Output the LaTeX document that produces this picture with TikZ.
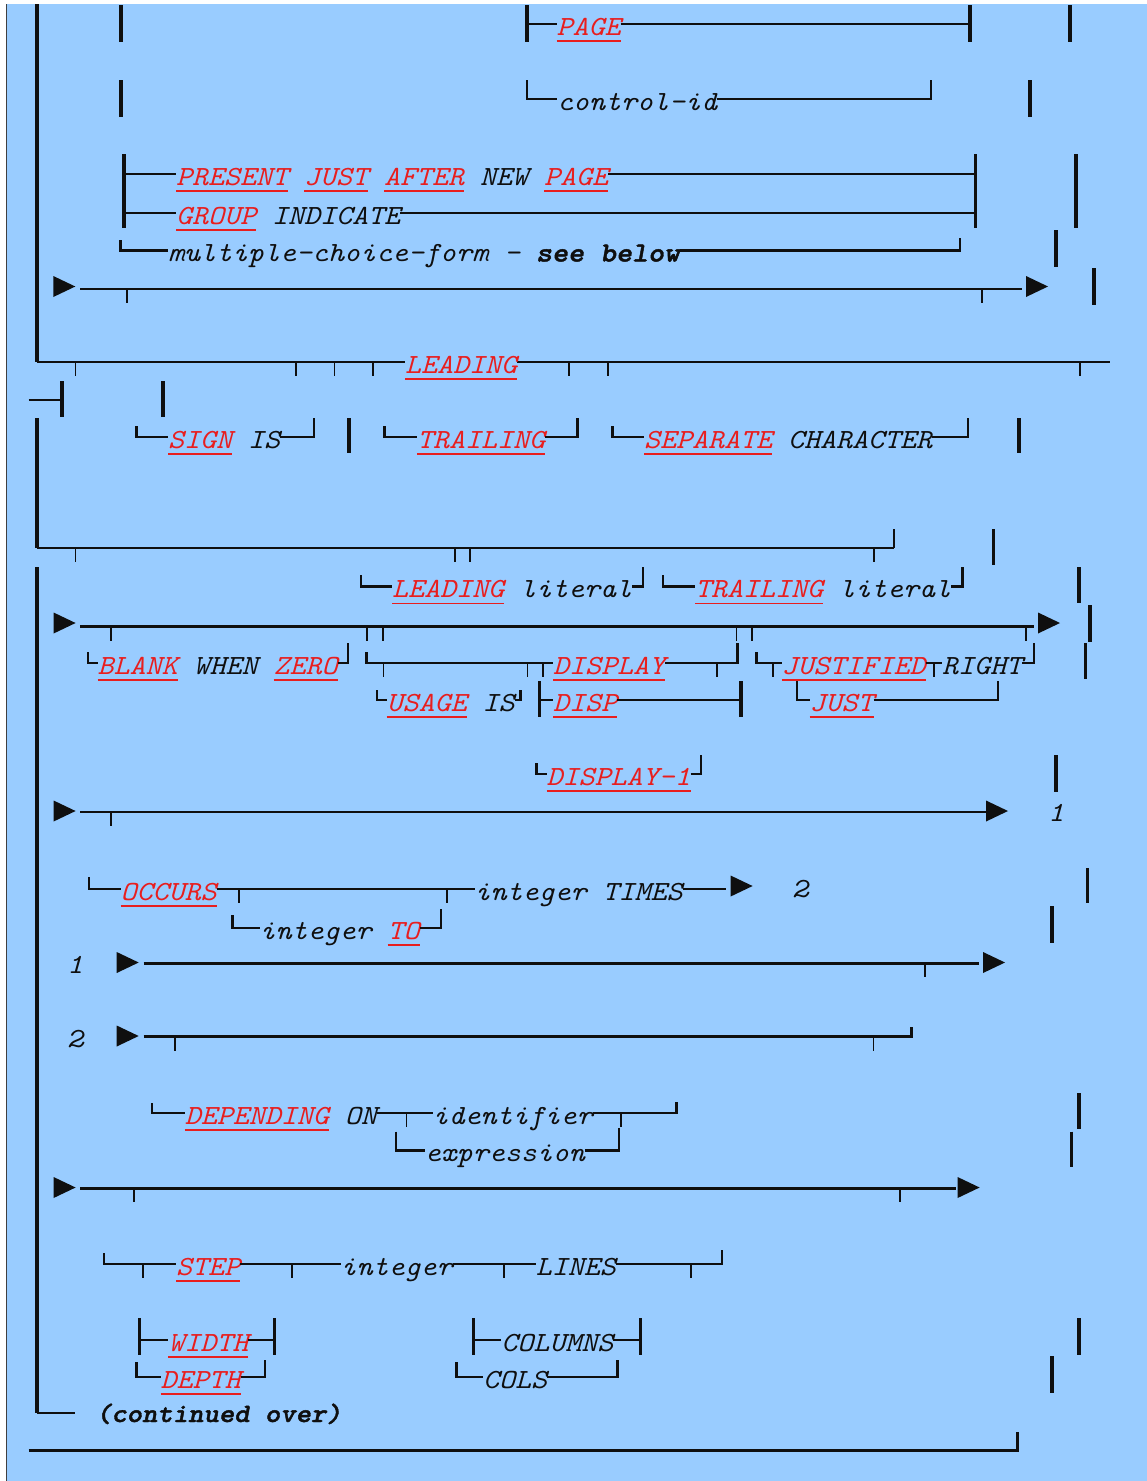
\documentclass[tikz,border=0pt]{standalone}
\usepackage{fontspec}
\newfontfamily\cmono{lmmono10-regular.otf}[ItalicFont=lmmono10-italic.otf,BoldFont=lmmonolt10-bold.otf,BoldItalicFont=lmmonolt10-boldoblique.otf,BoldItalicFeatures={FakeBold=1.6},FakeStretch=1.1]
\definecolor{bg}{HTML}{99CCFF}
\definecolor{kred}{RGB}{232,30,30}
\definecolor{ink}{RGB}{15,15,15}
\newcommand\kwn[4]{\node[txt,text=kred] (#1) at (#2,#3+11) {#4};
  \draw[ul] ([yshift=-6pt]#1.base west) -- ([yshift=-6pt]#1.base east);}
\newcommand\txn[4]{\node[txt] (#1) at (#2,#3+11) {#4};}
\newcommand\vb[3]{\draw[vbar] (#1,#2) -- (#1,#3);}
\newcommand\hl[3]{\draw[hln] (#1,#3) -- (#2,#3);}
\newcommand\tk[2]{\draw[tks] (#1,#2) -- (#1,#2+14);}
\newcommand\crnL[4]{\draw[cor] (#1,#2) -- (#1,#3) -- (#4,#3);}
\newcommand\crnR[4]{\draw[cor] (#1,#3) -- (#4,#3) -- (#4,#2);}
\newcommand\arw[2]{\fill[ink] (#1,#2-10.5) -- (#1+22,#2) -- (#1,#2+10.5) -- cycle;}
\begin{document}
\begin{tikzpicture}[x=1pt,y=-1pt,
  hln/.style={line width=2.6pt, ink},
  vbar/.style={line width=3.2pt, ink},
  cor/.style={line width=2.6pt, ink, line join=miter},
  tks/.style={line width=1.8pt, ink},
  ul/.style={line width=1.4pt, kred},
  txt/.style={anchor=base west, inner sep=0pt, outer sep=0pt, text=ink,
    font=\cmono\itshape\fontsize{27.71}{30}\selectfont}]
\useasboundingbox (0,0) rectangle (1147,1481);
\fill[white] (0,0) rectangle (1147,1481);
\fill[bg] (7,4) rectangle (1147,1481);
\draw[line width=1pt, black!75] (6.5,4) -- (6.5,1481);
% ---------- main left rail ----------
\vb{37}{4}{362}
\hl{37}{405}{362}
\hl{517}{1110}{362}
\vb{37}{418}{548}
\hl{37}{894}{548}
\draw[cor] (894,548) -- (894,529);
\vb{37}{567}{1413}
\hl{37}{74.6}{1413}
% ---------- Row A ----------
\vb{121}{5}{41.7}
\vb{527}{5}{41.7}
\hl{527}{556.7}{24}
\kwn{a1}{556.7}{24}{PAGE}
\hl{620.7}{970}{24}
\vb{970}{5}{41.7}
\vb{1070}{5}{41.7}
% ---------- Row B ----------
\vb{121}{80}{116.7}
\crnL{527}{80}{99}{557}
\txn{b1}{557}{99}{control-id}
\crnR{717}{80}{99}{931}
\vb{1030}{80}{116.7}
% ---------- Rows C, D ----------
\vb{124}{154}{228}
\hl{124}{176}{174}
\kwn{c1}{176}{174}{PRESENT}
\kwn{c2}{304}{174}{JUST}
\kwn{c3}{384}{174}{AFTER}
\txn{c4}{480}{174}{NEW}
\kwn{c5}{544}{174}{PAGE}
\hl{608}{975.7}{174}
\vb{975.7}{154}{228}
\vb{1076}{154}{228}
\hl{124}{176}{213}
\kwn{d1}{176}{213}{GROUP}
\txn{d2}{272}{213}{INDICATE}
\hl{400}{975.7}{213}
% ---------- Row E ----------
\crnL{120.7}{240}{250.5}{168}
\txn{e1}{168}{250.5}{multiple-choice-form - \bfseries see below}
\crnR{680}{238}{250.5}{960}
\vb{1056}{230}{266.7}
% ---------- Row F ----------
\arw{53.3}{286.5}
\hl{80}{1021.7}{289}
\tk{126.7}{289}
\tk{981.7}{289}
\arw{1026}{286.5}
\vb{1094}{268}{305}
% ---------- Row G ----------
\tk{75.4}{362}
\tk{295.8}{362}
\tk{334.5}{362}
\tk{372.8}{362}
\kwn{g1}{405}{362}{LEADING}
\tk{569}{362}
\tk{608}{362}
\tk{1080}{362}
% ---------- Row H ----------
\hl{28.7}{62}{400}
\vb{62}{381}{417}
\vb{163}{381}{417}
% ---------- Row I ----------
\crnL{136.6}{426}{437}{168}
\kwn{i1}{168}{437}{SIGN}
\txn{i2}{248}{437}{IS}
\crnR{280}{418}{437}{314}
\vb{349}{418}{453}
\crnL{384.6}{426}{437}{417}
\kwn{i3}{417}{437}{TRAILING}
\crnR{545}{418}{437}{577.5}
\crnL{612.4}{426}{437}{644}
\kwn{i4}{644}{437}{SEPARATE}
\txn{i5}{788}{437}{CHARACTER}
\crnR{932}{418}{437}{968}
\vb{1019}{418}{453}
% ---------- Row J ----------
\tk{75.4}{548}
\tk{454.6}{548}
\tk{470}{548}
\tk{874}{548}
\vb{993.5}{529}{565}
% ---------- Row K ----------
\crnL{361}{575}{586.5}{392}
\kwn{k1}{392}{586.5}{LEADING}
\txn{k2}{520}{586.5}{literal}
\crnR{632}{567}{586.5}{643}
\crnL{663}{575}{586.5}{695}
\kwn{k3}{695}{586.5}{TRAILING}
\txn{k4}{839}{586.5}{literal}
\crnR{951}{567}{586.5}{962.5}
\vb{1079}{567}{603}
% ---------- Row L ----------
\arw{53.6}{623}
\hl{80}{1034}{626.5}
\tk{111}{626.5}
\tk{366.6}{626.5}
\tk{382.7}{626.5}
\tk{736.4}{626.5}
\tk{752}{626.5}
\tk{1025.7}{626.5}
\arw{1038}{623}
\vb{1090}{605}{641.7}
% ---------- Row M ----------
\crnL{88}{652}{663}{97.6}
\kwn{m1}{97.6}{663}{BLANK}
\txn{m2}{193.6}{663}{WHEN}
\kwn{m3}{273.6}{663}{ZERO}
\crnR{337.6}{643}{663}{348}
\crnL{366.6}{652}{663}{553}
\tk{383.5}{663}
\tk{527.4}{663}
\tk{542.7}{663}
\kwn{m4}{553}{663}{DISPLAY}
\crnR{665}{643}{663}{737.5}
\tk{717}{663}
\crnL{756.7}{652}{663}{781.5}
\tk{772.7}{663}
\kwn{m5}{781.5}{663}{JUSTIFIED}
\hl{925.5}{942}{663}
\tk{933.8}{663}
\txn{m6}{942}{663}{RIGHT}
\crnR{1022}{643}{663}{1034}
\vb{1085.8}{643}{679}
% ---------- Row N ----------
\crnL{377}{690}{700}{386.5}
\kwn{n1}{386.5}{700}{USAGE}
\txn{n2}{482.5}{700}{IS}
\crnR{514.5}{690}{700}{520.5}
\vb{539.6}{681}{717}
\hl{539.6}{553}{700}
\kwn{n3}{553}{700}{DISP}
\hl{617}{741}{700}
\vb{741}{681}{717}
\crnL{796.8}{681}{700}{809.5}
\kwn{n4}{809.5}{700}{JUST}
\crnR{873.5}{681}{700}{997.8}
% ---------- Row O ----------
\crnL{536.6}{763}{774}{546.5}
\kwn{o1}{546.5}{774}{DISPLAY-1}
\crnR{690.5}{755}{774}{701}
\vb{1056}{755}{791.7}
% ---------- Row P ----------
\arw{53.6}{811}
\hl{80}{986}{812}
\tk{111}{812}
\arw{986}{811}
\txn{p1}{1048}{810}{1}
% ---------- Row Q ----------
\crnL{88.8}{877}{889}{120.5}
\kwn{q1}{120.5}{889}{OCCURS}
\hl{216.5}{474.6}{889}
\tk{239}{889}
\tk{447}{889}
\txn{q2}{474.6}{889}{integer TIMES}
\hl{682.6}{726}{889}
\arw{730.6}{886}
\txn{q3}{792}{886}{2}
\vb{1087.7}{868}{903}
% ---------- Row R ----------
\crnL{232.3}{915}{928}{259.5}
\txn{r1}{259.5}{928}{integer}
\kwn{r2}{387.5}{928}{TO}
\crnR{419.5}{909}{928}{441}
\vb{1052}{906}{942.7}
% ---------- Row S ----------
\txn{s1}{67}{962}{1}
\arw{116.7}{962.5}
\hl{143.5}{978.6}{963.3}
\tk{925}{963.3}
\arw{983}{962.5}
% ---------- Row T ----------
\txn{t1}{67}{1036}{2}
\arw{116.7}{1036}
\crnR{143.5}{1026.7}{1036.7}{911.7}
\tk{175.3}{1036.7}
\tk{873.4}{1036.7}
% ---------- Row U ----------
\crnL{152}{1103}{1113}{184.8}
\kwn{u1}{184.8}{1113}{DEPENDING}
\txn{u2}{344.8}{1113}{ON}
\hl{376.8}{432.5}{1113}
\tk{406.4}{1113}
\txn{u3}{432.5}{1113}{identifier}
\crnR{592.5}{1102}{1113}{676.3}
\tk{620.8}{1113}
\vb{1079}{1093}{1129}
% ---------- Row V ----------
\crnL{396}{1131.7}{1150.7}{424.8}
\txn{v1}{424.8}{1150.7}{expression}
\crnR{584.8}{1128}{1150.7}{619}
\vb{1071.6}{1131.7}{1166.7}
% ---------- Row W ----------
\arw{53.6}{1187.5}
\hl{80}{955.7}{1188.3}
\tk{134}{1188.3}
\tk{900}{1188.3}
\arw{957.6}{1187.5}
% ---------- Row X ----------
\crnL{104}{1253}{1264}{176}
\tk{142.7}{1264}
\kwn{x1}{176}{1264}{STEP}
\hl{240}{340.6}{1264}
\tk{291.6}{1264}
\txn{x2}{340.6}{1264}{integer}
\hl{452.6}{535.8}{1264}
\tk{504}{1264}
\txn{x3}{535.8}{1264}{LINES}
\crnR{615.8}{1250}{1264}{722}
\tk{690.8}{1264}
% ---------- Row Y ----------
\vb{139.7}{1318}{1355}
\hl{139.7}{168.4}{1340}
\kwn{y1}{168.4}{1340}{WIDTH}
\hl{248.4}{274.8}{1340}
\vb{274.8}{1318}{1355}
\vb{473.4}{1318}{1355}
\hl{473.4}{501.3}{1340}
\txn{y2}{501.3}{1340}{COLUMNS}
\hl{613.3}{640.7}{1340}
\vb{640.7}{1318}{1355}
\vb{1079}{1318}{1355}
% ---------- Row Z ----------
\crnL{136.6}{1362}{1377}{160.7}
\kwn{z1}{160.7}{1377}{DEPTH}
\crnR{240.7}{1360}{1377}{264.8}
\crnL{456.6}{1362}{1377}{483}
\txn{z2}{483}{1377}{COLS}
\crnR{547}{1360}{1377}{617.7}
\vb{1052}{1356}{1393}
% ---------- Row AA / AB ----------
\node[txt, font=\cmono\bfseries\itshape\fontsize{26.6}{30}\selectfont] (aa1) at (96,1422) {(continued over)};
\crnR{28.7}{1431.7}{1450.7}{1017.7}
\end{tikzpicture}
\end{document}
